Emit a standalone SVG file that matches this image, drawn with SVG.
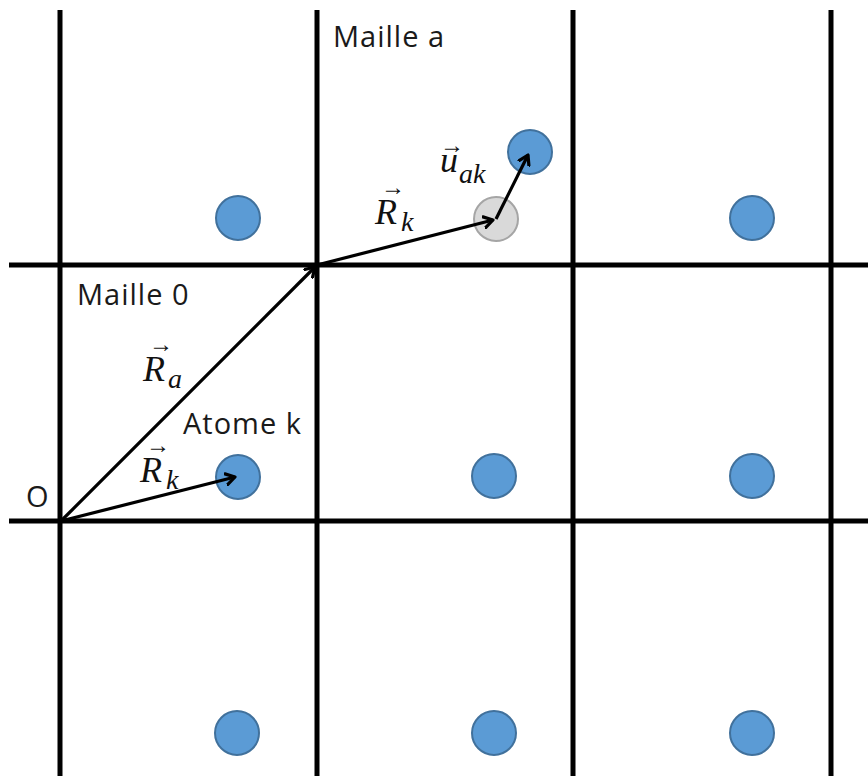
<svg xmlns="http://www.w3.org/2000/svg" width="868" height="776" viewBox="0 0 868 776">
<style>
.grid{stroke:#000;stroke-width:5;fill:none}
.atom{fill:#5b9bd5;stroke:#41719c;stroke-width:2}
.ghost{fill:#d9d9d9;stroke:#a5a5a5;stroke-width:2}
.vec{stroke:#000;stroke-width:3.2;fill:none;marker-end:url(#ah)}
.lbl{font-family:"Open Sans","Noto Sans",sans-serif;font-size:29px;letter-spacing:1px;fill:#1a1a1a}
.math{font-family:"Liberation Serif","DejaVu Serif",serif;font-style:italic;font-size:36px;fill:#111}
.sub{font-size:28px}
.acc{font-style:normal;font-size:24px}
</style>
<defs>
<marker id="ah" markerWidth="14" markerHeight="14" refX="10" refY="7" orient="auto" markerUnits="userSpaceOnUse">
<path d="M1,1.5 L10,7 L1,12.5" fill="none" stroke="#000" stroke-width="3.2" stroke-linecap="round" stroke-linejoin="round"/>
</marker>
</defs>
<rect width="868" height="776" fill="#fff"/>
<g id="grid">
<line class="grid" x1="60" y1="10" x2="60" y2="776"/>
<line class="grid" x1="317" y1="10" x2="317" y2="776"/>
<line class="grid" x1="573" y1="10" x2="573" y2="776"/>
<line class="grid" x1="831" y1="10" x2="831" y2="776"/>
<line class="grid" x1="9" y1="265" x2="868" y2="265"/>
<line class="grid" x1="9" y1="521" x2="868" y2="521"/>
</g>
<g id="atoms">
<circle id="atom-k" class="atom" cx="238" cy="477" r="22"/>
<circle class="atom" cx="238" cy="218" r="22"/>
<circle class="atom" cx="752" cy="218" r="22"/>
<circle class="atom" cx="494" cy="476" r="22"/>
<circle class="atom" cx="752" cy="476" r="22"/>
<circle class="atom" cx="237" cy="733" r="22"/>
<circle class="atom" cx="494" cy="733" r="22"/>
<circle class="atom" cx="752" cy="733" r="22"/>
<circle id="ghost" class="ghost" cx="496" cy="219" r="22"/>
<circle id="atom-displaced" class="atom" cx="530" cy="152" r="22"/>
</g>
<g id="connectors">
<line class="vec" x1="61" y1="521" x2="315" y2="267"/>
<line class="vec" x1="61" y1="521" x2="235" y2="477"/>
<line class="vec" x1="317" y1="265" x2="493" y2="220"/>
<line class="vec" x1="496" y1="219" x2="528" y2="155"/>
</g>
<g id="labels">
<text class="lbl" x="333" y="47">Maille a</text>
<text class="lbl" x="77" y="305">Maille 0</text>
<text class="lbl" x="183" y="434">Atome k</text>
<text class="lbl" x="26" y="507">O</text>
<text class="math" x="143" y="381">R<tspan class="sub" x="168" y="388">a</tspan><tspan class="acc" x="149" y="352">→</tspan></text>
<text class="math" x="140" y="482">R<tspan class="sub" x="166" y="489">k</tspan><tspan class="acc" x="146" y="453">→</tspan></text>
<text class="math" x="375" y="224">R<tspan class="sub" x="401" y="231">k</tspan><tspan class="acc" x="381" y="195">→</tspan></text>
<text class="math" x="440" y="172">u<tspan class="sub" x="459" y="183">ak</tspan><tspan class="acc" x="440" y="153">→</tspan></text>
</g>
</svg>
